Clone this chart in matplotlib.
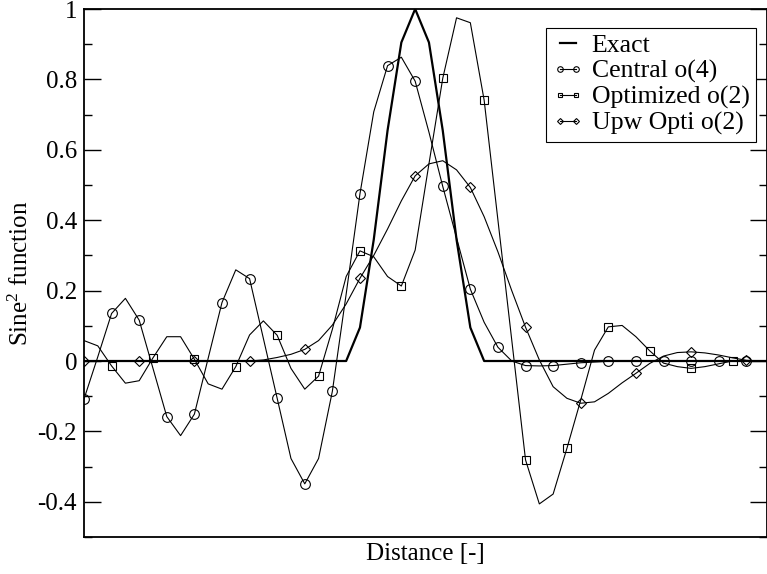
import matplotlib
matplotlib.use('Agg')
import matplotlib.pyplot as plt
import numpy as np
from matplotlib.lines import Line2D
from matplotlib.ticker import MultipleLocator, FuncFormatter

plt.rcParams['font.family'] = 'Liberation Serif'
plt.rcParams['mathtext.fontset'] = 'custom'
plt.rcParams['mathtext.rm'] = 'Liberation Serif'
plt.rcParams['mathtext.it'] = 'Liberation Serif:italic'
plt.rcParams['axes.unicode_minus'] = False

# grid index along the domain
distance = np.arange(51)

exact = [0, 0, 0, 0, 0, 0, 0, 0, 0, 0,
         0, 0, 0, 0, 0, 0, 0, 0, 0, 0,
         0.095, 0.345, 0.655, 0.905, 1.0, 0.905, 0.655, 0.345, 0.095, 0,
         0, 0, 0, 0, 0, 0, 0, 0, 0, 0,
         0, 0, 0, 0, 0, 0, 0, 0, 0, 0, 0]

central = [-0.108, 0.012, 0.135, 0.178, 0.116, -0.021, -0.158, -0.212, -0.151, 0.008,
           0.166, 0.259, 0.234, 0.064, -0.106, -0.277, -0.349, -0.277, -0.086, 0.19,
           0.475, 0.708, 0.839, 0.863, 0.795, 0.65, 0.496, 0.35, 0.204, 0.11,
           0.039, 0.0, -0.013, -0.014, -0.013, -0.009, -0.005, -0.003, -0.001, 0,
           0, 0, 0, 0, 0, 0, 0, 0, 0, 0, 0]

optimized = [0.058, 0.043, -0.014, -0.063, -0.056, 0.009, 0.069, 0.069, 0.005, -0.065,
             -0.080, -0.016, 0.074, 0.114, 0.073, -0.021, -0.080, -0.043, 0.09, 0.24,
             0.313, 0.296, 0.24, 0.213, 0.315, 0.56, 0.803, 0.975, 0.961, 0.741,
             0.40, 0.06, -0.281, -0.406, -0.378, -0.248, -0.111, 0.031, 0.097, 0.101,
             0.069, 0.029, -0.006, -0.016, -0.021, -0.016, -0.008, 0.0, 0, 0, 0]

upwind = [0, 0, 0, 0, 0, 0, 0, 0, 0, 0,
          0, 0, 0, 0.003, 0.010, 0.019, 0.033, 0.058, 0.102, 0.162,
          0.235, 0.30, 0.375, 0.455, 0.526, 0.56, 0.569, 0.543, 0.493, 0.41,
          0.31, 0.20, 0.096, 0.003, -0.073, -0.106, -0.12, -0.116, -0.092, -0.062,
          -0.035, -0.007, 0.014, 0.024, 0.026, 0.023, 0.017, 0.009, 0.002, 0, 0]

labels = ['Exact', 'Central o(4)', 'Optimized o(2)', 'Upw Opti o(2)']

fig = plt.figure(figsize=(7.67, 5.74), dpi=100)
ax = fig.add_axes([84 / 767, 37 / 574, 683 / 767, 528 / 574])

lw = 0.8
ax.plot(distance, central, 'k-', lw=lw, marker='o', ms=7, mfc='none', mew=0.8, markevery=(0, 2))
ax.plot(distance, optimized, 'k-', lw=lw, marker='s', ms=5.5, mfc='none', mew=0.8, markevery=(2, 3))
ax.plot(distance, upwind, 'k-', lw=lw, marker='D', ms=4.8, mfc='none', mew=0.8, markevery=(0, 4))
ax.plot(distance, exact, 'k-', lw=1.6)

ax.set_xlim(0, 49.5)
ax.set_ylim(-0.5, 1.0)
ax.set_xticks([])
ax.yaxis.set_major_locator(MultipleLocator(0.2))
ax.yaxis.set_minor_locator(MultipleLocator(0.1))
ax.yaxis.set_major_formatter(FuncFormatter(lambda v, p: '%g' % round(v, 2) if v > -0.45 else ''))
ax.tick_params(axis='y', which='both', direction='in', left=True, right=True, labelsize=18, pad=5, width=1)
ax.tick_params(axis='y', which='major', length=12)
ax.tick_params(axis='y', which='minor', length=6)
for s in ax.spines.values():
    s.set_linewidth(1.3)

ax.set_xlabel('Distance [-]', fontsize=18, labelpad=4)
ax.set_ylabel('Sine$^2$ function', fontsize=18, labelpad=3)

handles = [
    Line2D([], [], color='k', lw=1.6),
    Line2D([], [], color='k', lw=0.8, marker='o', ms=4, mfc='none', mew=0.8),
    Line2D([], [], color='k', lw=0.8, marker='s', ms=3.5, mfc='none', mew=0.8),
    Line2D([], [], color='k', lw=0.8, marker='D', ms=3, mfc='none', mew=0.8),
]
leg = ax.legend(handles, labels, loc='upper right', bbox_to_anchor=(0.984, 0.964),
                borderaxespad=0, fontsize=18.5, numpoints=2, handlelength=1.25,
                handletextpad=0.3, labelspacing=0.1, borderpad=0.25, fancybox=False,
                framealpha=1, edgecolor='k')
leg.get_frame().set_linewidth(0.8)

fig.savefig('out.png', dpi=100)
